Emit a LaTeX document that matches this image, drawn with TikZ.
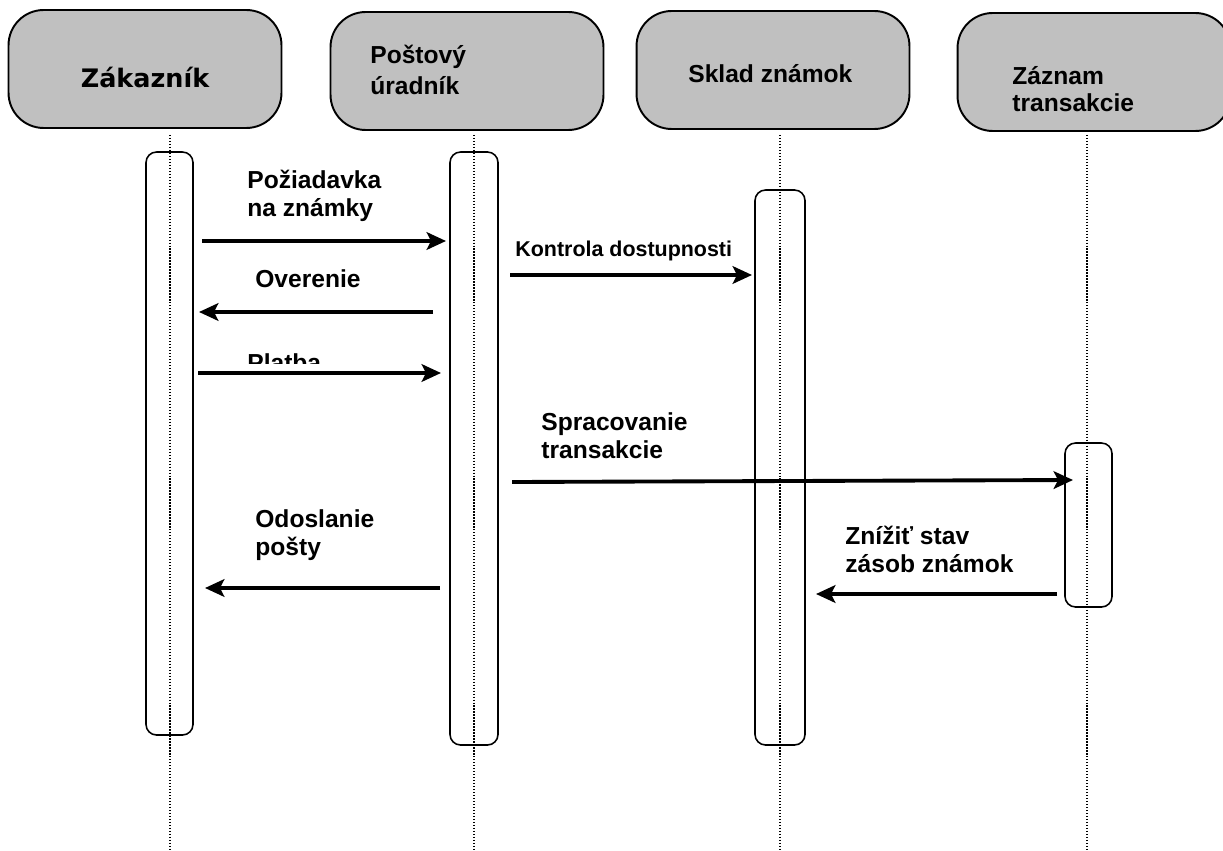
\documentclass[tikz,border=0pt]{standalone}
\usepackage{fontspec}
\setmainfont{Liberation Sans}
\newfontfamily\dejavu{DejaVu Sans}
\usepackage{tikz}
\usetikzlibrary{arrows.meta,positioning}
\definecolor{headgray}{HTML}{C0C0C0}
\tikzset{head/.style={draw=black,line width=1.1pt,fill=headgray,rounded corners=20pt,
        minimum width=5.46cm,minimum height=2.36cm,inner sep=0pt},
        bar/.style={draw=black,line width=0.9pt,fill=white,rounded corners=6pt},
        life/.style={densely dotted,line width=0.7pt},
        lbl/.style={font=\bfseries\fontsize{14}{15.4}\selectfont,anchor=base west,align=left,inner sep=0pt}
        }
\tikzstyle{msg} = [line width=2.2pt,-{Stealth[length=11pt,width=10pt,inset=2.5pt]}]

\begin{document}
\begin{tikzpicture}[x=0.02cm,y=-0.02cm]
	\useasboundingbox (0,0) rectangle (1223,851);

	% head boxes
	\node[head] (zak) at (145,69) {};
	\node[head] (ura) at (467,71) {};
	\node[head] (skl) at (773,70) {};
	\node[head] (zaz) at (1094,72) {};
	\node[font=\dejavu\bfseries\fontsize{14.5}{16}\selectfont] (zakT) at (145,77) {Zákazník};
	% base = last line
	\node[lbl,font=\bfseries\fontsize{14}{17.8}\selectfont] (uraT) at (370,95) {Poštový\\úradník};
	\node[lbl] (sklT) at (688,83) {Sklad známok};
	\node[lbl] (zazT) at (1012,112) {Záznam\\transakcie};

	% activation bars
	\draw[bar] (146,152) rectangle (193,735);
	\draw[bar] (450,152) rectangle (498,745);
	\draw[bar] (755,190) rectangle (805,745);
	\draw[bar] (1065,443) rectangle (1112,607);

	% lifelines
	\foreach \x/\n in {170/zak,474/ura,780/skl,1087/zaz}
		\draw[life] (\x,135) coordinate (\n top) -- (\x,851) coordinate (\n bot);

	% message ends
	\coordinate (m1a) at (202,241); \coordinate (m1b) at (446,241);
	\coordinate (m2a) at (510,275); \coordinate (m2b) at (752,275);
	\coordinate (m3a) at (433,312); \coordinate (m3b) at (199,312);
	\coordinate (m4a) at (198,373); \coordinate (m4b) at (441,373);
	\coordinate (m5a) at (512,482); \coordinate (m5b) at (1073,480);
	\coordinate (m6a) at (440,588); \coordinate (m6b) at (205,588);
	\coordinate (m7a) at (1057,594); \coordinate (m7b) at (816,594);

	\draw[msg] (m1a) -- (m1b);
	\draw[msg] (m2a) -- (m2b);
	\draw[msg] (m3a) -- (m3b);
	\draw[msg] (m4a) -- (m4b);
	\draw[msg] (m5a) -- (m5b);
	\draw[msg] (m6a) -- (m6b);
	\draw[msg] (m7a) -- (m7b);

	% message labels
	\node[lbl] (l1) at (247,216) {Požiadavka\\na známky};
	\node[lbl,font=\bfseries\fontsize{12.2}{14}\selectfont] (l2) at (515,256) {Kontrola dostupnosti};
	\node[lbl] (l3) at (255,287) {Overenie};
	\begin{scope}
		\clip (230,340) rectangle (420,363);
		\node[lbl] (l4) at (247,371) {Platba};
	\end{scope}
	\node[lbl] (l5) at (541,458) {Spracovanie\\transakcie};
	\node[lbl] (l6) at (255,555) {Odoslanie\\pošty};
	\node[lbl] (l7) at (845,572) {Znížiť stav\\zásob známok};
\end{tikzpicture}
\end{document}
